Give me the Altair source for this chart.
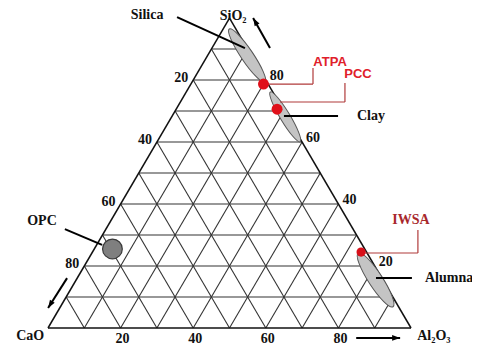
import altair as alt
import pandas as pd

# ---------------- data (ternary %, CaO = 100 - SiO2 - Al2O3) ----------------
dot_names = ["ATPA", "PCC", "IWSA"]
dot_sio2 = [78.7, 70.6, 24.5]
dot_al2o3 = [20.0, 27.8, 74.0]

opc_sio2 = [25.5]
opc_al2o3 = [5.0]

ell_names = ["Silica", "Clay", "Alumna"]
ell_sio2 = [87.9, 68.1, 15.5]
ell_al2o3 = [10.9, 31.3, 82.5]

tick_values = [20, 40, 60, 80]
grid_values = [10, 20, 30, 40, 50, 60, 70, 80, 90]

# annotation anchors (SiO2, Al2O3)
label_text = ["Silica", "SiO\u2082", "Clay", "Alumna", "OPC", "CaO", "Al\u2082O\u2083"]
label_sio2 = [101.0, 100.8, 68.4, 16.1, 34.5, -2.6, -2.6]
label_al2o3 = [-23.2, 0.6, 50.9, 95.8, -18.9, -3.6, 107.6]
label_align = ["center", "center", "left", "left", "center", "center", "center"]

red_text = ["ATPA", "PCC"]
red_sio2 = [85.8, 81.9]
red_al2o3 = [34.8, 44.45]

iwsa_text = ["IWSA"]
iwsa_sio2 = [34.8]
iwsa_al2o3 = [82.6]

black_leaders = [
    [(100.3, -14.6), (90.3, 9.1)],      # Silica
    [(68.4, 30.8), (68.4, 45.7)],       # Clay
    [(16.1, 82.3), (16.1, 92.2)],       # Alumna
    [(31.9, -11.3), (26.8, 1.5)],       # OPC
]
red_leaders = [
    [(78.7, 20.0), (78.7, 33.65), (83.9, 31.05)],   # ATPA
    [(72.9, 27.45), (72.9, 45.35), (79.0, 42.3)],   # PCC
    [(24.2, 74.1), (24.2, 89.8), (31.6, 86.1)],     # IWSA
]
arrows_tail = [(90.3, 16.0), (16.1, -2.8), (-3.2, 86.5)]
arrows_tip = [(100.0, 6.5), (6.45, -3.2), (-3.2, 98.6)]
arrows_angle = [330, 212, 90]


# ---------------- helpers ----------------
def cart(si, al):
    return al + si / 2.0, si


def points(sio2, al2o3, **extra):
    rows = []
    for i, (s, a) in enumerate(zip(sio2, al2o3)):
        x, y = cart(s, a)
        r = {"x": x, "y": y}
        for k, v in extra.items():
            r[k] = v[i]
        rows.append(r)
    return pd.DataFrame(rows)


def segs(paths):
    rows = []
    for p in paths:
        for (s1, a1), (s2, a2) in zip(p[:-1], p[1:]):
            x1, y1 = cart(s1, a1)
            x2, y2 = cart(s2, a2)
            rows.append({"x": x1, "y": y1, "x2": x2, "y2": y2})
    return pd.DataFrame(rows)


xs = alt.Scale(domain=[-11.02, 116.8], nice=False, zero=False)
ys = alt.Scale(domain=[-6.13, 103.23], nice=False, zero=False)


def enc_pt():
    return dict(x=alt.X("x:Q", scale=xs, axis=None), y=alt.Y("y:Q", scale=ys, axis=None))


def enc_seg():
    return dict(x=alt.X("x:Q", scale=xs, axis=None), y=alt.Y("y:Q", scale=ys, axis=None),
                x2=alt.X2("x2:Q"), y2=alt.Y2("y2:Q"))


# grid lines
grid_paths = []
for v in grid_values:
    grid_paths.append([(v, 0), (v, 100 - v)])            # constant SiO2
    grid_paths.append([(0, v), (100 - v, v)])            # constant Al2O3
    grid_paths.append([(0, 100 - v), (100 - v, 0)])      # constant CaO
grid = alt.Chart(segs(grid_paths)).mark_rule(color="#333", strokeWidth=1.1).encode(**enc_seg())

border = alt.Chart(segs([[(0, 0), (0, 100), (100, 0), (0, 0)]])).mark_rule(
    color="#111", strokeWidth=1.5).encode(**enc_seg())

layers = [grid, border]

# ellipses
ell_style = {"Silica": (32, 0.19, 56), "Clay": (29, 0.17, 59), "Alumna": (32, 0.22, 57)}
ell_df = points(ell_sio2, ell_al2o3, name=ell_names)
for nm in ell_names:
    half, r, ang = ell_style[nm]
    k = 0.5523
    path = (f"M-1,0 C-1,{-k*r:.4f} {-k:.4f},{-r} 0,{-r} C{k:.4f},{-r} 1,{-k*r:.4f} 1,0 "
            f"C1,{k*r:.4f} {k:.4f},{r} 0,{r} C{-k:.4f},{r} -1,{k*r:.4f} -1,0 Z")
    layers.append(
        alt.Chart(ell_df).transform_filter(alt.datum.name == nm)
        .mark_point(shape=path, size=(2 * half) ** 2, angle=ang, filled=True,
                    fill="#c4c4c4", stroke="#555", strokeWidth=1, opacity=1)
        .encode(**enc_pt())
    )

# leaders
layers.append(alt.Chart(segs(black_leaders)).mark_rule(color="#000", strokeWidth=2).encode(**enc_seg()))
layers.append(alt.Chart(segs(red_leaders)).mark_rule(color="#b03a3a", strokeWidth=1.2).encode(**enc_seg()))

# OPC circle
layers.append(alt.Chart(points(opc_sio2, opc_al2o3)).mark_point(
    shape="circle", size=390, filled=True, fill="#7f7f7f", stroke="#3a3a3a",
    strokeWidth=1.2, opacity=1).encode(**enc_pt()))

# red dots
dots = points(dot_sio2, dot_al2o3, name=dot_names)
layers.append(alt.Chart(dots).transform_filter(alt.datum.name != "IWSA").mark_point(
    shape="circle", size=120, filled=True, color="#e0101a", opacity=1).encode(**enc_pt()))
layers.append(alt.Chart(dots).transform_filter(alt.datum.name == "IWSA").mark_point(
    shape="circle", size=85, filled=True, color="#d8101a", opacity=1).encode(**enc_pt()))

# arrows
arrow_lines = segs([[t, h] for t, h in zip(arrows_tail, arrows_tip)])
layers.append(alt.Chart(arrow_lines).mark_rule(color="#000", strokeWidth=2).encode(**enc_seg()))
heads = points([p[0] for p in arrows_tip], [p[1] for p in arrows_tip], ang=arrows_angle)
for i, ang in enumerate(arrows_angle):
    layers.append(alt.Chart(heads.iloc[[i]]).mark_point(
        shape="M0,0 L0.7,2 L-0.7,2 Z", size=64, angle=ang, filled=True,
        color="#000", opacity=1).encode(**enc_pt()))

# tick labels
bottom = points([0] * 4, tick_values, t=[str(v) for v in tick_values])
left = points([100 - v for v in tick_values], [0] * 4, t=[str(v) for v in tick_values])
right = points(tick_values, [100 - v for v in tick_values], t=[str(v) for v in tick_values])
tfont = dict(font="Liberation Serif", fontWeight="bold", fontSize=14, color="#111")
layers.append(alt.Chart(bottom).mark_text(align="center", baseline="middle", dx=2, dy=11, **tfont)
              .encode(text="t:N", **enc_pt()))
layers.append(alt.Chart(left).mark_text(align="right", baseline="middle", dx=-5, dy=-2, **tfont)
              .encode(text="t:N", **enc_pt()))
layers.append(alt.Chart(right).mark_text(align="left", baseline="middle", dx=4, dy=-4, **tfont)
              .encode(text="t:N", **enc_pt()))

# labels
labels = points(label_sio2, label_al2o3, t=label_text, al=label_align)
for al in ["center", "left"]:
    layers.append(alt.Chart(labels).transform_filter(alt.datum.al == al).mark_text(
        align=al, baseline="middle", **tfont).encode(text="t:N", **enc_pt()))

layers.append(alt.Chart(points(red_sio2, red_al2o3, t=red_text)).mark_text(
    align="center", baseline="middle", font="Liberation Sans", fontWeight="bold",
    fontSize=13, color="#e0202a").encode(text="t:N", **enc_pt()))
layers.append(alt.Chart(points(iwsa_sio2, iwsa_al2o3, t=iwsa_text)).mark_text(
    align="center", baseline="middle", font="Liberation Serif", fontWeight="bold",
    fontSize=14, color="#a8282c").encode(text="t:N", **enc_pt()))

chart = alt.layer(*layers).properties(
    width=464, height=339, padding=0,
    autosize=alt.AutoSizeParams(type="none"),
    background="white",
).configure_view(stroke="transparent")

chart.save("out.html", embed_options={"renderer": "svg", "actions": False})
